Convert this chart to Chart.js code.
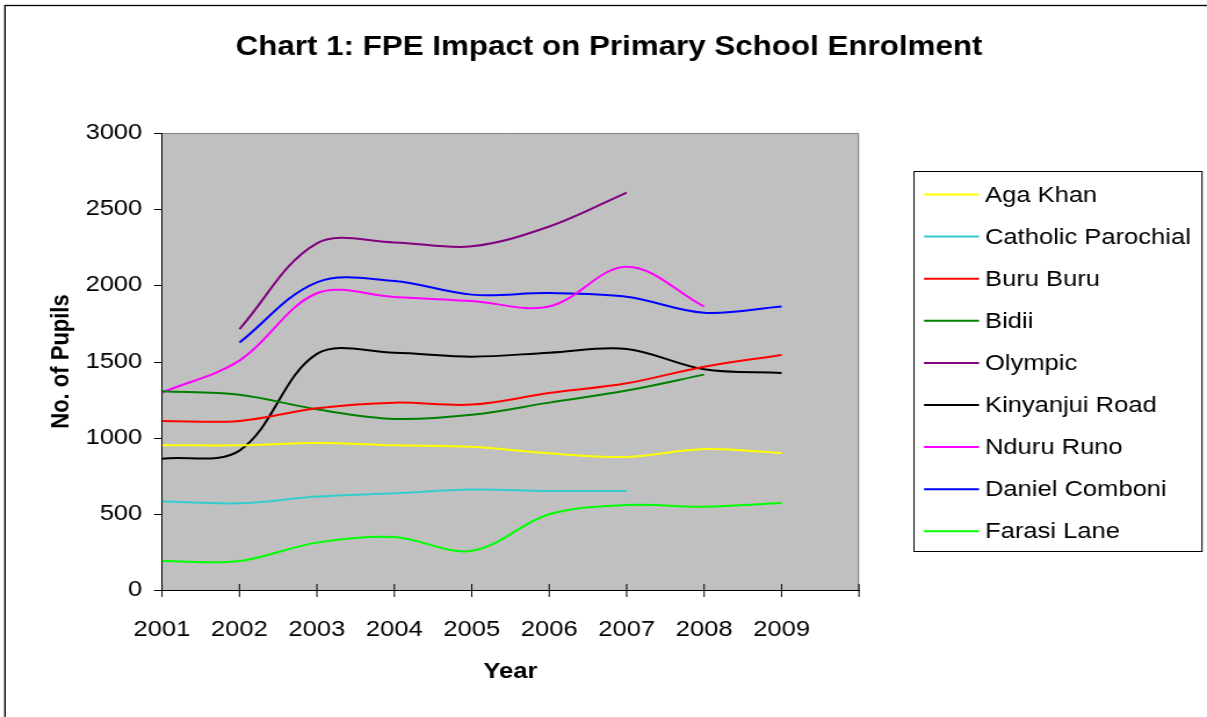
<!DOCTYPE html>
<html>
<head>
<meta charset="utf-8">
<script src="https://cdn.jsdelivr.net/npm/chart.js@4.4.1/dist/chart.umd.min.js"></script>
<style>
html,body{margin:0;padding:0;background:#fff;overflow:hidden}
#c{display:block;width:1207px !important;height:717px !important}
</style>
</head>
<body>
<canvas id="c" width="1040" height="717" style="width:1207px;height:717px"></canvas>
<script>
// ---- data ----
const years = [2001, 2002, 2003, 2004, 2005, 2006, 2007, 2008, 2009];
const xAxisEnd = 2010;
const seriesNames = ['Aga Khan', 'Catholic Parochial', 'Buru Buru', 'Bidii', 'Olympic',
  'Kinyanjui Road', 'Nduru Runo', 'Daniel Comboni', 'Farasi Lane'];
const agaKhan      = [950, 950, 965, 950, 940, 897, 873, 925, 900];
const catholicPar  = [582, 569, 613, 635, 660, 650, 650, null, null];
const buruBuru     = [1110, 1110, 1193, 1230, 1217, 1293, 1357, 1466, 1543];
const bidii        = [1305, 1282, 1186, 1123, 1150, 1230, 1309, 1414, null];
const olympic      = [null, 1713, 2276, 2282, 2256, 2386, 2609, null, null];
const kinyanjui    = [862, 915, 1550, 1558, 1532, 1558, 1582, 1449, 1425];
const nduruRuno    = [1296, 1506, 1948, 1924, 1897, 1861, 2122, 1861, null];
const danielComb   = [null, 1624, 2020, 2028, 1939, 1949, 1925, 1820, 1861];
const farasiLane   = [190, 190, 311, 348, 257, 497, 558, 547, 571];
const yTickStep = 500;
const yMax = 3000;
const chartTitle = 'Chart 1: FPE Impact on Primary School Enrolment';
const xTitle = 'Year';
const yTitle = 'No. of Pupils';

// ---- styles ----
const seriesValues = [agaKhan, catholicPar, buruBuru, bidii, olympic, kinyanjui, nduruRuno, danielComb, farasiLane];
const seriesColors = ['#FFFF00', '#33CCCC', '#FF0000', '#008000', '#800080', '#000000', '#FF00FF', '#0000FF', '#00FF00'];

const SX = 1207 / 1040;           // horizontal stretch of the picture
const X = v => v / SX;            // screen px -> canvas px
const FONT = "'Liberation Sans', Arial, Helvetica, sans-serif";
Chart.defaults.font.family = FONT;
Chart.defaults.color = '#000';

const datasets = seriesNames.map((name, i) => ({
  label: name,
  data: years.map((yr, j) => ({ x: yr, y: seriesValues[i][j] })),
  borderColor: seriesColors[i],
  backgroundColor: seriesColors[i],
  borderWidth: 2,
  pointRadius: 0,
  pointHoverRadius: 0,
  tension: 0.35,
  spanGaps: false,
  fill: false
}));

const PLOT_RIGHT = X(859);

const decor = {
  id: 'decor',
  beforeDraw(chart) {
    const { ctx, chartArea: a } = chart;
    ctx.save();
    ctx.fillStyle = '#fff';
    ctx.fillRect(0, 0, chart.width, chart.height);
    ctx.strokeStyle = '#000';
    ctx.lineWidth = 1.3;
    ctx.strokeRect(X(5), 5.5, chart.width + 40, chart.height + 40);
    ctx.fillStyle = '#C0C0C0';
    ctx.fillRect(a.left, a.top, a.right - a.left, a.bottom - a.top);
    ctx.restore();
  },
  afterDraw(chart) {
    const { ctx, chartArea: a } = chart;
    ctx.save();
    // plot frame (top/right)
    ctx.strokeStyle = '#808080';
    ctx.lineWidth = 1;
    ctx.beginPath();
    ctx.moveTo(a.left, a.top + 0.5);
    ctx.lineTo(a.right - 0.5, a.top + 0.5);
    ctx.lineTo(a.right - 0.5, a.bottom);
    ctx.stroke();
    // ticks
    ctx.strokeStyle = '#000';
    ctx.lineWidth = 1;
    const ys = chart.scales.y;
    ys.ticks.forEach(t => {
      const py = Math.round(ys.getPixelForValue(t.value)) + 0.5;
      ctx.beginPath();
      ctx.moveTo(a.left - X(8), py);
      ctx.lineTo(a.left, py);
      ctx.stroke();
    });
    const xs = chart.scales.x;
    xs.ticks.forEach(t => {
      const px = xs.getPixelForValue(t.value);
      ctx.beginPath();
      ctx.moveTo(px, a.bottom - 6);
      ctx.lineTo(px, a.bottom + 7);
      ctx.stroke();
    });
    // title
    ctx.fillStyle = '#000';
    ctx.font = `bold 27px ${FONT}`;
    ctx.textAlign = 'center';
    ctx.textBaseline = 'middle';
    ctx.fillText(chartTitle, X(609), 48);
    // legend
    const lx0 = X(914), lx1 = X(1202), ly0 = 171, ly1 = 551;
    ctx.strokeStyle = '#000';
    ctx.lineWidth = 1;
    ctx.strokeRect(lx0, ly0 + 0.5, lx1 - lx0, ly1 - ly0);
    ctx.font = `22px ${FONT}`;
    ctx.textAlign = 'left';
    chart.data.datasets.forEach((ds, i) => {
      const y = 194.5 + i * 42.1;
      ctx.strokeStyle = ds.borderColor;
      ctx.lineWidth = 2;
      ctx.beginPath();
      ctx.moveTo(X(924), y);
      ctx.lineTo(X(979), y);
      ctx.stroke();
      ctx.fillStyle = '#000';
      ctx.fillText(ds.label, X(985), y + 1);
    });
    ctx.restore();
  }
};

new Chart(document.getElementById('c'), {
  type: 'line',
  data: { datasets },
  plugins: [decor],
  options: {
    responsive: false,
    animation: false,
    devicePixelRatio: 1,
    layout: { padding: { left: 0, top: 133, right: 1040 - PLOT_RIGHT, bottom: 0 } },
    plugins: { legend: { display: false }, title: { display: false }, tooltip: { enabled: false } },
    scales: {
      x: {
        type: 'linear',
        min: years[0],
        max: xAxisEnd,
        ticks: {
          stepSize: 1, autoSkip: false, maxRotation: 0, padding: 27,
          color: '#000', font: { size: 22 },
          callback: v => (years.includes(v) ? String(v) : '')
        },
        grid: { display: false, drawTicks: false },
        border: { display: true, color: '#000', width: 1 },
        title: { display: true, text: xTitle, color: '#000', font: { size: 22, weight: 'bold' }, padding: { top: 0, bottom: 32 } },
        afterFit: s => { s.height = 127; }
      },
      y: {
        min: 0,
        max: yMax,
        ticks: { stepSize: yTickStep, padding: 17, color: '#000', font: { size: 22 }, callback: v => String(v) },
        grid: { display: false, drawTicks: false },
        border: { display: true, color: '#000', width: 1 },
        title: { display: true, text: yTitle, color: '#000', font: { size: 22, weight: 'bold' }, padding: { top: 40, bottom: 0 } },
        afterFit: s => { s.width = X(162); }
      }
    }
  }
});
</script>
</body>
</html>
